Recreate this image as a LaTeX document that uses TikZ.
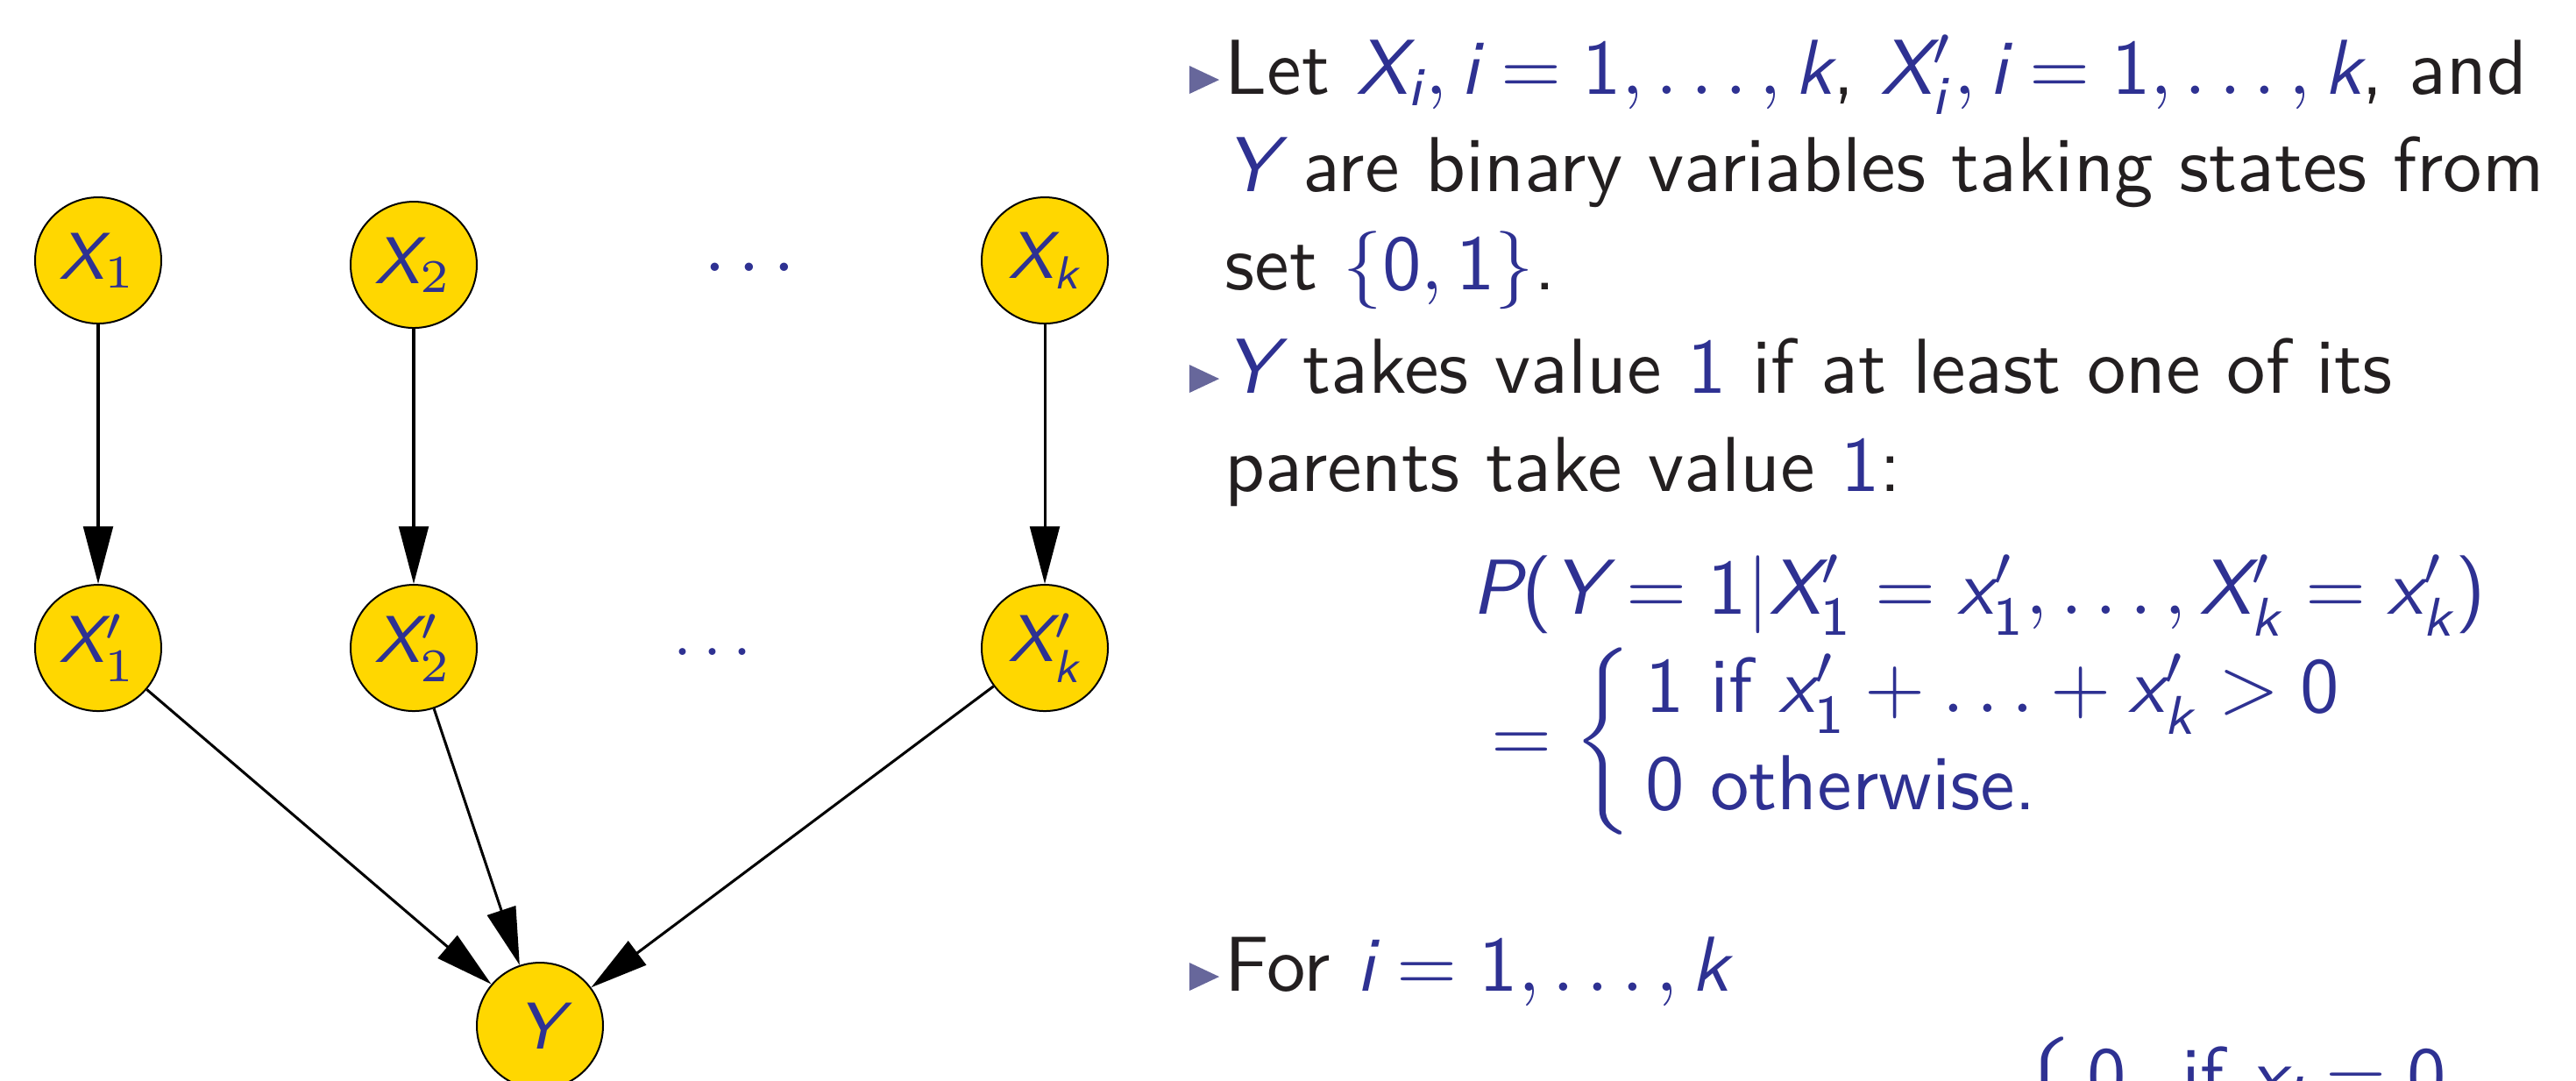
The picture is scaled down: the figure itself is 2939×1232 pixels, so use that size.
\documentclass[tikz,border=0pt]{standalone}
\usepackage{amsmath}
\usetikzlibrary{arrows.meta}
\DeclareSymbolFont{sfit}{TU}{lmss}{m}{sl}
\DeclareSymbolFont{sfup}{TU}{lmss}{m}{n}
\DeclareMathSymbol{X}{\mathalpha}{sfit}{`X}
\DeclareMathSymbol{Y}{\mathalpha}{sfit}{`Y}
\DeclareMathSymbol{P}{\mathalpha}{sfit}{`P}
\DeclareMathSymbol{i}{\mathalpha}{sfit}{`i}
\DeclareMathSymbol{k}{\mathalpha}{sfit}{`k}
\DeclareMathSymbol{x}{\mathalpha}{sfit}{`x}
\DeclareMathSymbol{0}{\mathalpha}{sfup}{`0}
\DeclareMathSymbol{1}{\mathalpha}{sfup}{`1}
\DeclareMathSymbol{2}{\mathalpha}{sfup}{`2}
\DeclareMathSymbol{(}{\mathopen}{sfup}{`(}
\DeclareMathSymbol{)}{\mathclose}{sfup}{`)}
\definecolor{mblue}{HTML}{2E3192}
\definecolor{tblack}{HTML}{231F20}
\definecolor{nodegold}{HTML}{FFD700}
\definecolor{bulcol}{HTML}{67679B}
\newcommand\mth[1]{\textcolor{mblue}{$#1$}}
\tikzset{
  bn/.style={circle, draw=black, line width=0.225pt, fill=nodegold, minimum size=16.2pt,
    inner sep=0pt, font=\fontsize{8.5}{10}\selectfont\sffamily, text=mblue},
  arr/.style={-{Triangle[length=7.4pt,width=3.8pt]}, line width=0.34pt, draw=black},
  dotsn/.style={inner sep=0pt, text=mblue},
  txt/.style={anchor=base west, inner sep=0pt, font=\fontsize{10}{12.54}\selectfont\sffamily, text=tblack},
  bulfill/.style={fill=bulcol}
}
\begin{document}
\begin{tikzpicture}[x=0.1125pt,y=-0.1125pt]
\useasboundingbox[fill=white] (0,0) rectangle (2939,1232);
% graph
\node[bn] (x1) at (112,297) {$X_{\mathrm{1}}$};
\node[bn] (x2) at (472,302) {$X_{\mathrm{2}}$};
\node[bn] (xk) at (1192,297) {$X_k$};
\node[bn] (x1p) at (112,739) {$X'_{\mathrm{1}}$};
\node[bn] (x2p) at (472,739) {$X'_{\mathrm{2}}$};
\node[bn] (xkp) at (1192,739) {$X'_k$};
\node[bn] (y) at (616,1170) {$Y$};
\node[dotsn, font=\fontsize{10}{12}\selectfont] (d1) at (855,305) {$\ldots$};
\node[dotsn, font=\fontsize{8.5}{10}\selectfont] (d2) at (813,744) {$\ldots$};
\draw[arr] (x1) -- (x1p);
\draw[arr] (x2) -- (x2p);
\draw[arr] (xk) -- (xkp);
\draw[arr] (x1p) -- (y);
\draw[arr] (x2p) -- (y);
\draw[arr] (xkp) -- (y);
% bullets
\coordinate (b1) at (1357,107);
\coordinate (b2) at (1357,448);
\coordinate (b3) at (1357,1130);
\foreach \b in {b1,b2,b3}{\fill[bulfill] (\b) -- ++(0,-32) -- ++(34,16) -- cycle;}
% text
\node[txt] (l1) at (1396,107) {Let \mth{X_i, i = 1, \ldots, k}, \mth{X'_i, i = 1, \ldots, k}, and};
\node[txt] (l2) at (1396,218) {\mth{Y} are binary variables taking states from};
\node[txt] (l3) at (1396,330) {set \mth{\{0, 1\}}.};
\node[txt] (l4) at (1396,448) {\mth{Y} takes value \mth{1} if at least one of its};
\node[txt] (l5) at (1396,560) {parents take value \mth{1}:};
\node[txt] (f1) at (1678,700) {\mth{P(Y = 1|X'_1 = x'_1, \ldots, X'_k = x'_k)}};
\node[txt] (f2) at (1700,868) {\mth{= \left\{\begin{array}{@{\,}l@{}} 1 \text{ if } x'_1 + \ldots + x'_k > 0\\ 0 \text{ otherwise.}\end{array}\right.}};
\node[txt] (l6) at (1396,1130) {For \mth{i = 1, \ldots, k}};
\node[txt] (f3) at (2298,1312) {\mth{\left\{\begin{array}{@{\,}l@{}} 0\hspace{3.8pt}\text{ if } x_i = 0\\ \phantom{0}\end{array}\right.}};
\end{tikzpicture}
\end{document}
